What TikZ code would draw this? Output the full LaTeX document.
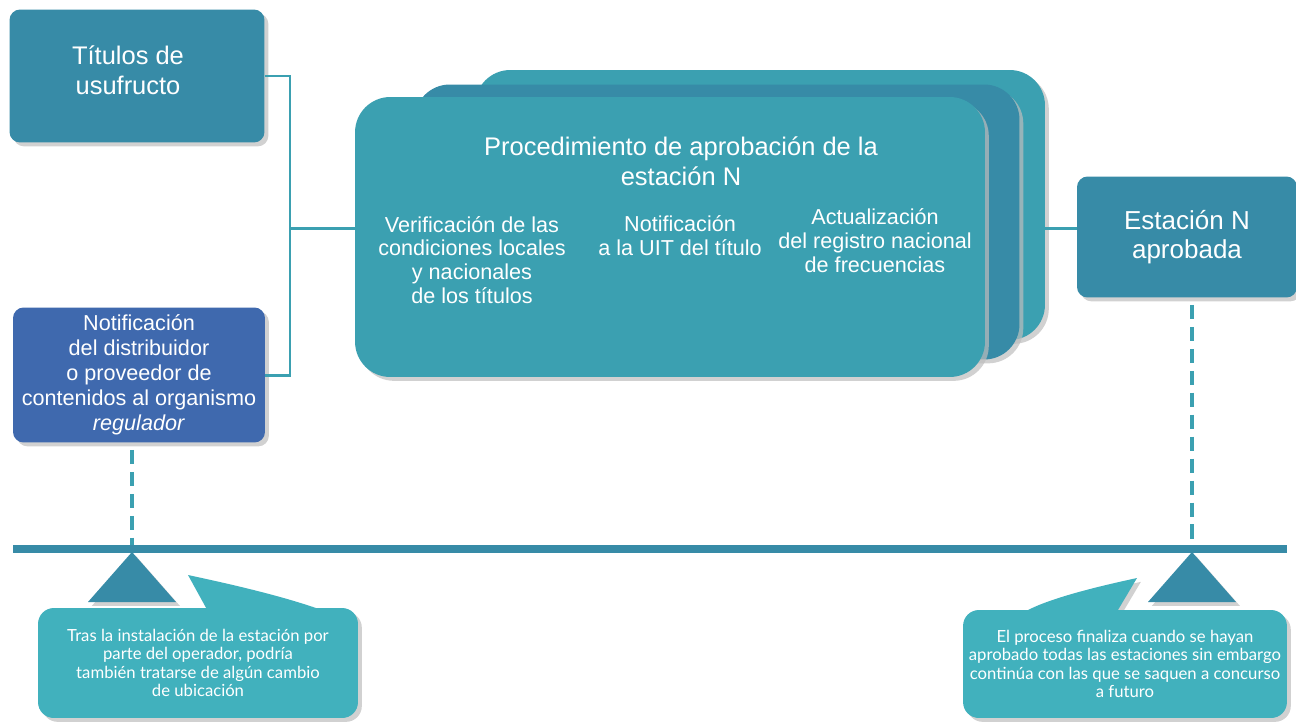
\documentclass[tikz,border=0pt]{standalone}
\usepackage{fontspec}
\setmainfont{Liberation Sans}
\newfontfamily\callfont{Lato}
\usetikzlibrary{shapes,positioning,shadows,calc}
\definecolor{estdark}{HTML}{378BA7}
\definecolor{estteal}{HTML}{3BA0B1}
\definecolor{estblue}{HTML}{3F69AE}
\definecolor{estcall}{HTML}{41B1BD}
\definecolor{estshade}{HTML}{BDBDBD}
\tikzstyle{box} = [rectangle, rounded corners=6pt, text=white, align=center,
    drop shadow={shadow xshift=2.2pt, shadow yshift=-2.2pt, fill=estshade, opacity=0.7}]
\tikzstyle{layer} = [box, rounded corners=20pt]
\tikzstyle{intext} = [text=white, align=center]
\tikzstyle{link} = [estteal, line width=1.7pt]
\tikzstyle{dashlink} = [estteal, line width=2.2pt, dash pattern=on 8pt off 4.5pt]
\tikzstyle{axisline} = [estdark, line width=4.5pt]
\tikzstyle{callbox} = [rectangle, rounded corners=9pt, fill=estcall, text=white, align=center,
    font=\callfont\fontsize{9.5}{10.5}\selectfont,
    drop shadow={shadow xshift=2.2pt, shadow yshift=-2.2pt, fill=estshade, opacity=0.7}]
\newcommand{\bigtxt}{\fontsize{14.5}{17}\selectfont}
\newcommand{\midtxt}{\fontsize{12.3}{14.2}\selectfont}
\newcommand{\coltxt}{\fontsize{12.3}{13.6}\selectfont}

\begin{document}
\begin{tikzpicture}[x=0.02cm, y=-0.02cm]
\useasboundingbox (0,0) rectangle (1296,721);

% inputs on the left
\node[box, fill=estdark, minimum width=5.1cm, minimum height=2.66cm] (titulos) at (137,76) {};
\node[intext, font=\bigtxt] (titulostxt) at ($(titulos)+(-9,-6)$) {Títulos de\\usufructo};
\node[box, fill=estblue, minimum width=5.04cm, minimum height=2.7cm, font=\midtxt] (notif) at (139,375)
    {Notificación\\del distribuidor\\o proveedor de\\contenidos al organismo\\\textit{regulador}};

% stacked procedure box
\node[layer, fill=estteal, minimum width=11.4cm, minimum height=5.4cm] (layerback) at (760,205) {};
\node[layer, fill=estdark, minimum width=12.1cm, minimum height=5.5cm] (layermid) at (717,222) {};
\node[layer, fill=estteal, minimum width=12.6cm, minimum height=5.6cm] (front) at (670,237) {};
\node[intext, font=\bigtxt] (proctitle) at (681,161) {Procedimiento de aprobación de la\\estación N};
\node[intext, font=\coltxt] (verif) at (472,260) {Verificación de las\\condiciones locales\\y nacionales\\de los títulos};
\node[intext, font=\coltxt] (notiuit) at (680,236) {Notificación\\a la UIT del título};
\node[intext, font=\coltxt] (actual) at (875,241) {Actualización\\del registro nacional\\de frecuencias};

% result
\node[box, fill=estdark, minimum width=4.4cm, minimum height=2.42cm, font=\fontsize{14.8}{16.6}\selectfont] (estacion) at (1187,237) {Estación N\\aprobada};

% connectors
\coordinate (hub) at (290,228);
\draw[link] (titulos.east) -| (hub) |- (notif.east);
\draw[link] (hub) -- (hub -| front.west);
\draw[link] (hub -| layerback.east) -- (hub -| estacion.west);

% time line
\coordinate (lineL) at (13,549);
\coordinate (lineR) at (1287,549);
\coordinate (apexL) at (132,552);
\coordinate (apexR) at (1192,552);
\draw[dashlink, shorten <=4pt] (notif.south -| apexL) -- (apexL |- lineL);
\draw[dashlink, shorten <=4pt] (estacion.south -| apexR) -- (apexR |- lineR);
\draw[axisline] (lineL) -- (lineR);
\fill[estdark, drop shadow={shadow xshift=2.2pt, shadow yshift=-2.2pt, fill=estshade, opacity=0.7}]
    (apexL) -- ++(44,50) -- ++(-88,0) -- cycle;
\fill[estdark, drop shadow={shadow xshift=2.2pt, shadow yshift=-2.2pt, fill=estshade, opacity=0.7}]
    (apexR) -- ++(44,50) -- ++(-88,0) -- cycle;

% callouts
\fill[estcall, drop shadow={shadow xshift=2.2pt, shadow yshift=-2.2pt, fill=estshade, opacity=0.7}]
    (210,615) -- (188,575) .. controls (225,583) and (290,597) .. (335,615) -- cycle;
\fill[estcall, drop shadow={shadow xshift=2.2pt, shadow yshift=-2.2pt, fill=estshade, opacity=0.7}]
    (1115,615) -- (1137,578) .. controls (1100,586) and (1040,600) .. (1020,615) -- cycle;
\node[callbox, minimum width=6.4cm, minimum height=2.2cm] (callL) at (198,663)
    {Tras la instalación de la estación por\\parte del operador, podría\\también tratarse de algún cambio\\de ubicación};
\node[callbox, minimum width=6.4cm, minimum height=2.16cm] (callR) at (1125,664)
    {El proceso finaliza cuando se hayan\\aprobado todas las estaciones sin embargo\\continúa con las que se saquen a concurso\\a futuro};
\end{tikzpicture}
\end{document}
